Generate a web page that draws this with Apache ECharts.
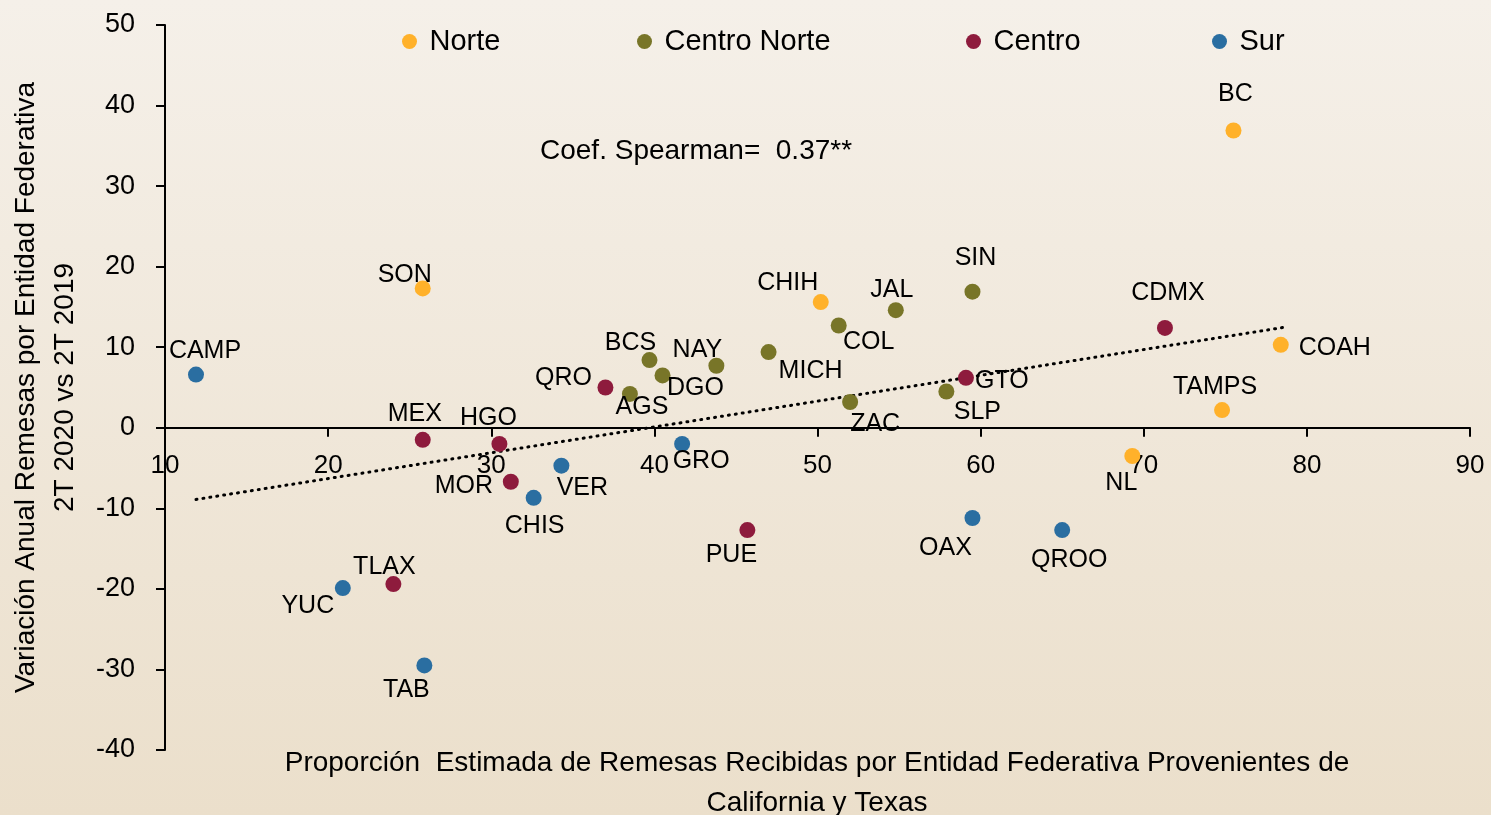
<!DOCTYPE html>
<html>
<head>
<meta charset="utf-8">
<title>Remesas: variación anual vs proporción California y Texas</title>
<script src="https://cdn.jsdelivr.net/npm/echarts@6/dist/echarts.min.js"></script>
<style>
  html, body { margin: 0; padding: 0; }
  #chart { width: 1491px; height: 815px; }
</style>
</head>
<body>
<div id="chart"></div>
<script>
// datos por región
const norteNames = ["SON", "CHIH", "NL", "TAMPS", "BC", "COAH"]
const norteX = [25.8, 50.2, 69.3, 74.8, 75.5, 78.4]
const norteY = [17.3, 15.6, -3.5, 2.2, 36.9, 10.3]

const centroNorteNames = ["BCS", "AGS", "DGO", "NAY", "MICH", "COL", "ZAC", "JAL", "SLP", "SIN"]
const centroNorteX = [39.7, 38.5, 40.5, 43.8, 47.0, 51.3, 52.0, 54.8, 57.9, 59.5]
const centroNorteY = [8.4, 4.2, 6.5, 7.7, 9.4, 12.7, 3.2, 14.6, 4.5, 16.9]

const centroNames = ["MEX", "HGO", "MOR", "TLAX", "QRO", "PUE", "GTO", "CDMX"]
const centroX = [25.8, 30.5, 31.2, 24.0, 37.0, 45.7, 59.1, 71.3]
const centroY = [-1.5, -2.0, -6.7, -19.4, 5.0, -12.7, 6.2, 12.4]

const surNames = ["CAMP", "CHIS", "VER", "YUC", "TAB", "GRO", "OAX", "QROO"]
const surX = [11.9, 32.6, 34.3, 20.9, 25.9, 41.7, 59.5, 65.0]
const surY = [6.6, -8.7, -4.7, -19.9, -29.5, -2.0, -11.2, -12.7]

// línea de tendencia (extremos)
const trendX = [11.9, 78.7]
const trendY = [-8.9, 12.5]

const xTicks = [10, 20, 30, 40, 50, 60, 70, 80, 90]
const yTicks = [-40, -30, -20, -10, 0, 10, 20, 30, 40, 50]

// desplazamiento de cada etiqueta respecto al punto (px)
const labelOffsets = {
  CAMP: [9, -24], SON: [-18, -13], MEX: [-8, -26], HGO: [-11, -26], MOR: [-47, 4],
  CHIS: [1, 28], VER: [21, 22], TLAX: [-9, -17], YUC: [-35, 18], TAB: [-18, 25],
  QRO: [-42, -9], AGS: [12, 13], BCS: [-19, -17], DGO: [33, 13], GRO: [19, 17],
  NAY: [-19, -16], MICH: [42, 19], PUE: [-16, 25], CHIH: [-33, -19], COL: [30, 17],
  ZAC: [25, 22], JAL: [-4, -20], SLP: [31, 21], GTO: [36, 3], SIN: [3, -34],
  OAX: [-27, 30], QROO: [7, 30], NL: [-11, 27], CDMX: [3, -35], TAMPS: [-7, -23],
  BC: [2, -36], COAH: [54, 3]
}

const FONT = "Liberation Sans"

// grid en px
const GRID = { left: 165, right: 21, top: 25, bottom: 65 }
const plotH = 815 - GRID.top - GRID.bottom
// el eje X cruza en y = 0
const xAxisOffset = -plotH * (0 - yTicks[0]) / (yTicks[yTicks.length - 1] - yTicks[0])

const buildPoints = (names, xs, ys) =>
  names.map((n, i) => ({
    name: n,
    value: [xs[i], ys[i]],
    label: { offset: labelOffsets[n] || [0, -20] }
  }))

const scatter = (name, color, names, xs, ys) => ({
  name: name,
  type: "scatter",
  symbolSize: 16,
  itemStyle: { color: color, opacity: 1 },
  data: buildPoints(names, xs, ys),
  label: {
    show: true,
    position: "inside",
    formatter: "{b}",
    color: "#000",
    fontFamily: FONT,
    fontSize: 25,
    align: "center",
    verticalAlign: "middle"
  },
  z: 3
})

const chart = echarts.init(document.getElementById("chart"))

const legendItem = (name, left) => ({
  data: [name],
  left: left,
  top: 22,
  icon: "circle",
  itemWidth: 30,
  itemHeight: 15,
  itemGap: 10,
  textStyle: { fontFamily: FONT, fontSize: 29, color: "#000" }
})

const option = {
  backgroundColor: {
    type: "linear", x: 0, y: 0, x2: 0, y2: 1,
    colorStops: [
      { offset: 0, color: "#F5F0E9" },
      { offset: 1, color: "#EBDFCB" }
    ]
  },
  animation: false,
  textStyle: { fontFamily: FONT },
  legend: [
    legendItem("Norte", 397),
    legendItem("Centro Norte", 632),
    legendItem("Centro", 961),
    legendItem("Sur", 1207)
  ],
  grid: {
    left: GRID.left, right: GRID.right, top: GRID.top, bottom: GRID.bottom,
    containLabel: false,
    outerBoundsMode: "none"
  },
  xAxis: {
    type: "value",
    min: xTicks[0],
    max: xTicks[xTicks.length - 1],
    interval: 10,
    offset: xAxisOffset,
    axisLine: { onZero: false, lineStyle: { color: "#000", width: 2 } },
    axisTick: { show: true, length: 9, lineStyle: { color: "#000", width: 2 } },
    axisLabel: { margin: 25, color: "#000", fontSize: 26, fontFamily: FONT },
    splitLine: { show: false }
  },
  yAxis: {
    type: "value",
    min: yTicks[0],
    max: yTicks[yTicks.length - 1],
    interval: 10,
    name: "Variación Anual Remesas por Entidad Federativa\n2T 2020 vs 2T 2019",
    nameLocation: "middle",
    nameGap: 78,
    nameTextStyle: { color: "#000", fontSize: 28, fontFamily: FONT, lineHeight: 39 },
    axisLine: { show: true, onZero: false, lineStyle: { color: "#000", width: 2 } },
    axisTick: { show: true, length: 9, lineStyle: { color: "#000", width: 2 } },
    axisLabel: { margin: 30, color: "#000", fontSize: 27, fontFamily: FONT },
    splitLine: { show: false }
  },
  graphic: [
    {
      type: "text",
      x: 540,
      y: 137,
      style: { text: "Coef. Spearman=  0.37**", font: "28px " + FONT, fill: "#000" }
    },
    {
      type: "text",
      x: 817,
      y: 743,
      style: {
        text: "Proporción  Estimada de Remesas Recibidas por Entidad Federativa Provenientes de\nCalifornia y Texas",
        font: "28px " + FONT,
        fill: "#000",
        align: "center",
        lineHeight: 40
      }
    }
  ],
  series: [
    {
      name: "Tendencia",
      type: "line",
      data: trendX.map((x, i) => [x, trendY[i]]),
      symbol: "none",
      silent: true,
      lineStyle: { color: "#000", width: 3, type: [1, 6], cap: "round" },
      z: 2
    },
    scatter("Norte", "#FFB12A", norteNames, norteX, norteY),
    scatter("Centro Norte", "#787528", centroNorteNames, centroNorteX, centroNorteY),
    scatter("Centro", "#8E1B3D", centroNames, centroX, centroY),
    scatter("Sur", "#2A6EA1", surNames, surX, surY)
  ]
}

chart.setOption(option)
</script>
</body>
</html>
